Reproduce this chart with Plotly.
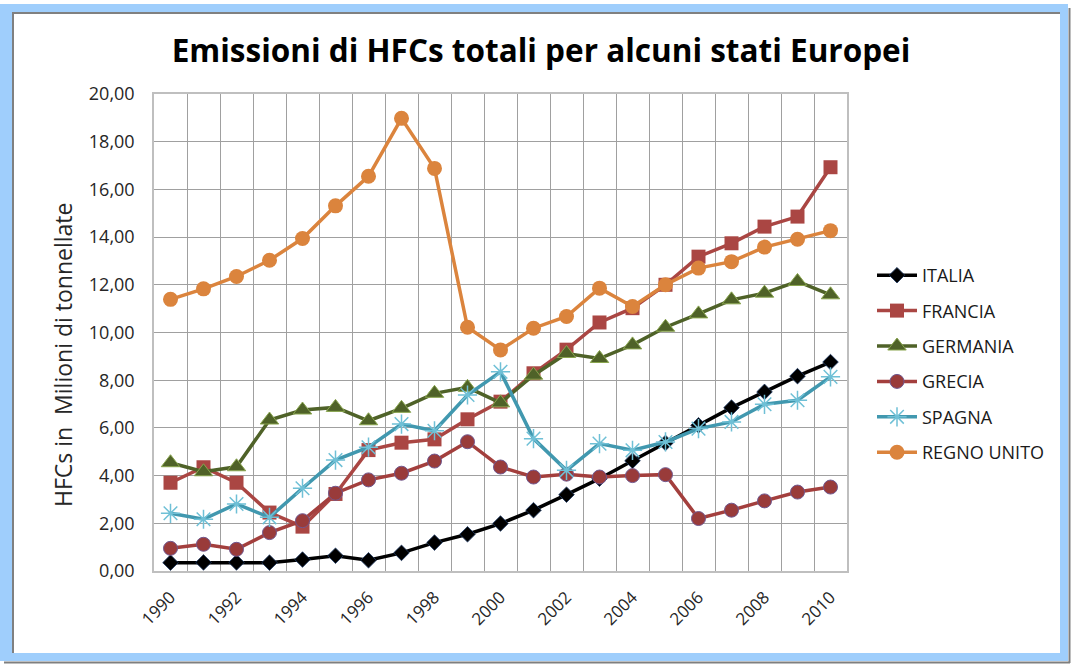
import plotly.graph_objects as go

# ---- data ----
years = list(range(1990, 2011))
italia = [0.35, 0.36, 0.36, 0.35, 0.48, 0.64, 0.45, 0.76, 1.19, 1.54, 1.99,
          2.55, 3.20, 3.87, 4.62, 5.37, 6.11, 6.85, 7.51, 8.17, 8.76]
francia = [3.70, 4.35, 3.70, 2.45, 1.86, 3.23, 5.07, 5.38, 5.52, 6.36, 7.10,
           8.29, 9.28, 10.42, 11.02, 12.00, 13.18, 13.74, 14.44, 14.86, 16.93]
germania = [4.54, 4.16, 4.37, 6.33, 6.75, 6.86, 6.30, 6.82, 7.45, 7.70, 7.05,
            8.21, 9.12, 8.91, 9.48, 10.22, 10.78, 11.37, 11.65, 12.14, 11.58]
grecia = [0.95, 1.12, 0.91, 1.61, 2.11, 3.26, 3.82, 4.10, 4.61, 5.42, 4.36,
          3.94, 4.06, 3.94, 4.00, 4.04, 2.20, 2.55, 2.94, 3.31, 3.52]
spagna = [2.42, 2.17, 2.81, 2.25, 3.47, 4.65, 5.19, 6.16, 5.88, 7.38, 8.35,
          5.55, 4.22, 5.34, 5.06, 5.41, 5.97, 6.25, 6.99, 7.16, 8.14]
regno_unito = [11.39, 11.83, 12.35, 13.03, 13.94, 15.31, 16.55, 18.98, 16.88, 10.22, 9.27,
               10.18, 10.67, 11.86, 11.09, 12.00, 12.70, 12.97, 13.58, 13.91, 14.27]
x_tick_labels = [str(y) for y in years[::2]]

series = [
    ("ITALIA", italia, "#000000", "diamond", 12, "#000000", dict(color="#1F3B66", width=0.8)),
    ("FRANCIA", francia, "#AA4643", "square", 14, "#AA4643", dict(color="#AA4643", width=0)),
    ("GERMANIA", germania, "#4F6228", "triangle-up", 16, "#4F6228", dict(color="#89A54E", width=1)),
    ("GRECIA", grecia, "#A33F3D", "circle", 14, "#993B3A", dict(color="#71588F", width=1)),
    ("SPAGNA", spagna, "#4198AF", "asterisk-open", 16, None, dict(color="#6FC0D6", width=1.5)),
    ("REGNO UNITO", regno_unito, "#DB843D", "circle", 15, "#DB843D", dict(color="#DB843D", width=0)),
]

FONT = "'Open Sans', Lato, sans-serif"
W, H = 1071, 664
PL, PR, PT, PB = 154, 847, 94, 571

fig = go.Figure()
for name, vals, lc, sym, size, mc, mline in series:
    marker = dict(symbol=sym, size=size, line=mline,
                  color=mc if mc is not None else mline["color"])
    fig.add_trace(go.Scatter(
        x=years, y=vals, name=name, mode="lines+markers",
        line=dict(color=lc, width=3.5), marker=marker,
        legendgroup=name,
    ))

def px_x(p):
    return (p - PL) / (PR - PL)

def px_y(p):
    return (PB - p) / (PB - PT)

shapes = [
    # light blue frame
    dict(type="rect", xref="paper", yref="paper", layer="below",
         x0=px_x(0), x1=px_x(1068), y0=px_y(661), y1=px_y(4),
         fillcolor="#9FCEFC", line=dict(width=0)),
    # grey shadow lines (outer bottom/right)
    dict(type="line", xref="paper", yref="paper", layer="below",
         x0=px_x(4), x1=px_x(1070), y0=px_y(662.5), y1=px_y(662.5),
         line=dict(color="#7F7F7F", width=2)),
    dict(type="line", xref="paper", yref="paper", layer="below",
         x0=px_x(1069.5), x1=px_x(1069.5), y0=px_y(663), y1=px_y(8),
         line=dict(color="#7F7F7F", width=2)),
    # white inner panel
    dict(type="rect", xref="paper", yref="paper", layer="below",
         x0=px_x(12), x1=px_x(1060), y0=px_y(653), y1=px_y(12.5),
         fillcolor="#FFFFFF", line=dict(width=0)),
    dict(type="line", xref="paper", yref="paper", layer="below",
         x0=px_x(12), x1=px_x(1060), y0=px_y(13), y1=px_y(13),
         line=dict(color="#808080", width=2)),
    dict(type="line", xref="paper", yref="paper", layer="below",
         x0=px_x(13), x1=px_x(13), y0=px_y(653), y1=px_y(12),
         line=dict(color="#808080", width=2)),
]

fig.update_layout(
    width=W, height=H,
    margin=dict(l=PL, r=W - PR, t=PT, b=H - PB),
    paper_bgcolor="#FFFFFF", plot_bgcolor="#FFFFFF",
    separators=",.",
    font=dict(family=FONT, size=17, color="#262626"),
    title=dict(text="<b>Emissioni di HFCs totali per alcuni stati Europei</b>",
               x=541 / W, xanchor="center", y=1 - 51 / H, yanchor="middle",
               font=dict(family=FONT, size=31.5, color="#000000")),
    xaxis=dict(
        range=[years[0] - 0.5, years[-1] + 0.5],
        tickmode="array", tickvals=years[::2], ticktext=x_tick_labels,
        tickangle=-45, ticks="", showgrid=False,
        showline=True, mirror=True, linecolor="#BFBFBF", linewidth=1.5,
        ticklabelstandoff=8,
        minor=dict(tickmode="array", tickvals=[y - 0.5 for y in years] + [years[-1] + 0.5],
                   showgrid=True, gridcolor="#A0A0A0", gridwidth=1, ticks=""),
        zeroline=False,
        tickfont=dict(size=17),
    ),
    yaxis=dict(
        range=[0, 20], tickmode="linear", tick0=0, dtick=2, tickformat=".2f",
        showgrid=True, gridcolor="#A0A0A0", gridwidth=1,
        showline=True, mirror=True, linecolor="#BFBFBF", linewidth=1.5,
        zeroline=False, ticks="", ticklabelstandoff=14,
        tickfont=dict(size=18),
    ),
    legend=dict(x=px_x(872), y=px_y(257), xanchor="left", yanchor="top",
                bgcolor="rgba(0,0,0,0)", font=dict(size=18, color="#1A1A1A"),
                tracegroupgap=9, itemwidth=40),
    showlegend=True,
    shapes=shapes,
    annotations=[dict(text="HFCs in  Milioni di tonnellate", xref="paper", yref="paper",
                      x=px_x(63), y=px_y(355), textangle=-90, showarrow=False,
                      xanchor="center", yanchor="middle",
                      font=dict(family=FONT, size=23, color="#262626"))],
)

fig.write_html("out.html", config={"displayModeBar": False},
               post_script="document.body.style.margin='0';")
